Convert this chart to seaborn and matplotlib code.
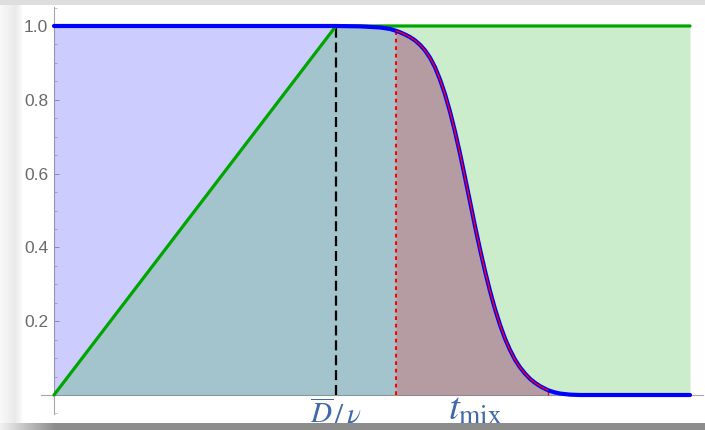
import numpy as np
import pandas as pd
import matplotlib
matplotlib.use("Agg")
import matplotlib.pyplot as plt
import seaborn as sns
from matplotlib.patches import Rectangle
from matplotlib.ticker import FixedLocator, NullLocator

# ---- data (time as a fraction of the plotted window) ----
t_cross = 0.4434          # D/v : end of the ballistic ramp

# ballistic fraction: linear rise up to D/v, then saturated
t_green = [0.0, t_cross, 1.0]
p_green = [0.0, 1.0, 1.0]

# survival probability
t_blue = [0.0, 0.4434, 0.4811, 0.5126, 0.5283, 0.5377, 0.5440, 0.5519, 0.5597,
          0.5676, 0.5755, 0.5833, 0.5912, 0.5991, 0.6069, 0.6148, 0.6226, 0.6305,
          0.6384, 0.6462, 0.6541, 0.6619, 0.6698, 0.6777, 0.6855, 0.6934, 0.7013,
          0.7091, 0.7170, 0.7248, 0.7327, 0.7406, 0.7484, 0.7563, 0.7642, 0.7720,
          0.7767, 0.7799, 0.7877, 0.7956, 0.8113, 0.8270, 1.0]
p_blue = [1.0, 1.0, 0.999, 0.996, 0.992, 0.987, 0.983, 0.977, 0.970,
          0.961, 0.949, 0.934, 0.914, 0.888, 0.855, 0.815, 0.768, 0.714,
          0.654, 0.590, 0.524, 0.458, 0.395, 0.336, 0.282, 0.233, 0.190,
          0.153, 0.122, 0.096, 0.075, 0.058, 0.044, 0.033, 0.024, 0.017,
          0.013, 0.011, 0.007, 0.004, 0.001, 0.0, 0.0]

# mixing window: the decaying part of the survival curve
i0, i1 = t_blue.index(0.5377), t_blue.index(0.7767)
t_red = t_blue[i0:i1 + 1]
p_red = p_blue[i0:i1 + 1]

y_ticks = [0.2, 0.4, 0.6, 0.8, 1.0]
y_tick_labels = ["0.2", "0.4", "0.6", "0.8", "1.0"]
x_labels = [r"$\overline{D}\,/\,\nu$", r"$t_{\mathrm{mix}}$"]
x_label_pos = [t_cross, 0.662]

# ---- style ----
sns.set_style("white")
plt.rcParams["font.family"] = ["Liberation Sans", "DejaVu Sans"]
plt.rcParams["mathtext.fontset"] = "stix"

W, H = 705, 430
fig = plt.figure(figsize=(W / 100, H / 100), dpi=100, facecolor="white")

# axes placed in pixel terms: x from 41 to 703, y from 7 to 414 (top-down)
ax = fig.add_axes([41 / W, (H - 414.2) / H, 662 / W, 407.4 / H])
ax.set_facecolor("none")
ax.set_xlim(-0.0204, 1.0204)
ax.set_ylim(-0.052, 1.052)

BLUE = "#0000ff"
GREEN = "#00a500"
RED = "#ff0000"

# filled areas (blue, then green, then red, each translucent)
ax.fill_between(t_blue, 0, p_blue, color=BLUE, alpha=0.2, lw=0, zorder=1)
ax.fill_between(t_green, 0, p_green, color=GREEN, alpha=0.2, lw=0, zorder=1.1)
ax.fill_between(t_red, 0, p_red, color=RED, alpha=0.2, lw=0, zorder=1.2)

# curves
df_g = pd.DataFrame({"t": t_green, "p": p_green})
df_b = pd.DataFrame({"t": t_blue, "p": p_blue})
df_r = pd.DataFrame({"t": t_red, "p": p_red})
sns.lineplot(data=df_g, x="t", y="p", color=GREEN, lw=2.3, ax=ax, zorder=3)
sns.lineplot(data=df_b, x="t", y="p", color=BLUE, lw=3.0, ax=ax, zorder=4)
sns.lineplot(data=df_r, x="t", y="p", color=RED, lw=1.0, ax=ax, zorder=5)

# markers of D/v and the start/end of the mixing window
ax.vlines(t_cross, 0, 1.0, colors="black", linestyles=(0, (4.5, 2.2)), lw=1.6, zorder=2.5)
ax.vlines(t_red[0], 0, p_red[0], colors=RED, linestyles=(0, (1.8, 1.8)), lw=1.5, zorder=2.6)
ax.vlines(t_red[-1], 0, p_red[-1], colors=RED, lw=1.0, zorder=2.6)

# axes through the origin
for side in ["top", "right"]:
    ax.spines[side].set_visible(False)
ax.spines["left"].set_position(("data", 0))
ax.spines["bottom"].set_position(("data", 0))
for side in ["left", "bottom"]:
    ax.spines[side].set_color("#a8a8a8")
    ax.spines[side].set_linewidth(0.8)
    ax.spines[side].set_zorder(0.5)

ax.set_xlabel("")
ax.set_ylabel("")
ax.xaxis.set_major_locator(NullLocator())
ax.yaxis.set_major_locator(FixedLocator(y_ticks))
ax.set_yticklabels(y_tick_labels)
ax.yaxis.set_minor_locator(FixedLocator([v for v in np.arange(-0.05, 1.06, 0.05)
                                          if all(abs(v - m) > 1e-6 for m in y_ticks + [0.0])]))
ax.tick_params(axis="y", which="major", direction="in", length=3.4, width=0.7,
               color="#a8a8a8", labelcolor="#6a6a6a", labelsize=12.5, pad=4.3,
               left=True)
ax.tick_params(axis="y", which="minor", direction="in", length=2.0, width=0.6,
               color="#b8b8b8", left=True)

# annotations under the time axis
lab_color = "#4068aa"
trans = ax.get_xaxis_transform()
ax.text(x_label_pos[0], -0.022, x_labels[0], transform=trans, ha="center",
        va="baseline", fontsize=21, color=lab_color, clip_on=False)
ax.text(x_label_pos[1], -0.014, x_labels[1], transform=trans, ha="center",
        va="baseline", fontsize=28, color=lab_color, clip_on=False)


# ---- shadowed frame around the panel ----
def band(x0, y0, w, h, color, z=10):
    fig.add_artist(Rectangle((x0 / W, 1 - (y0 + h) / H), w / W, h / H,
                             transform=fig.transFigure, facecolor=color,
                             edgecolor="none", zorder=z))


left_shades = ["#f8f8f8", "#f6f6f6", "#f4f4f4", "#f2f2f2", "#f0f0f0", "#eeeeee",
               "#ececec", "#eaeaea", "#ededed", "#f2f2f2", "#f8f8f8"]
for k, c in enumerate(left_shades):
    band(2 * k, 0, 2, H, c)
band(0, 0, W, 5, "#dedede")
bottom_shades = np.linspace(0.94, 0.55, 28)
for k, g in enumerate(bottom_shades):
    band(2 * k, 423, 2, 7, (g, g, g))
band(56, 423, W - 56, 7, (0.55, 0.55, 0.55))

fig.savefig("out.png", dpi=100, facecolor="white")
